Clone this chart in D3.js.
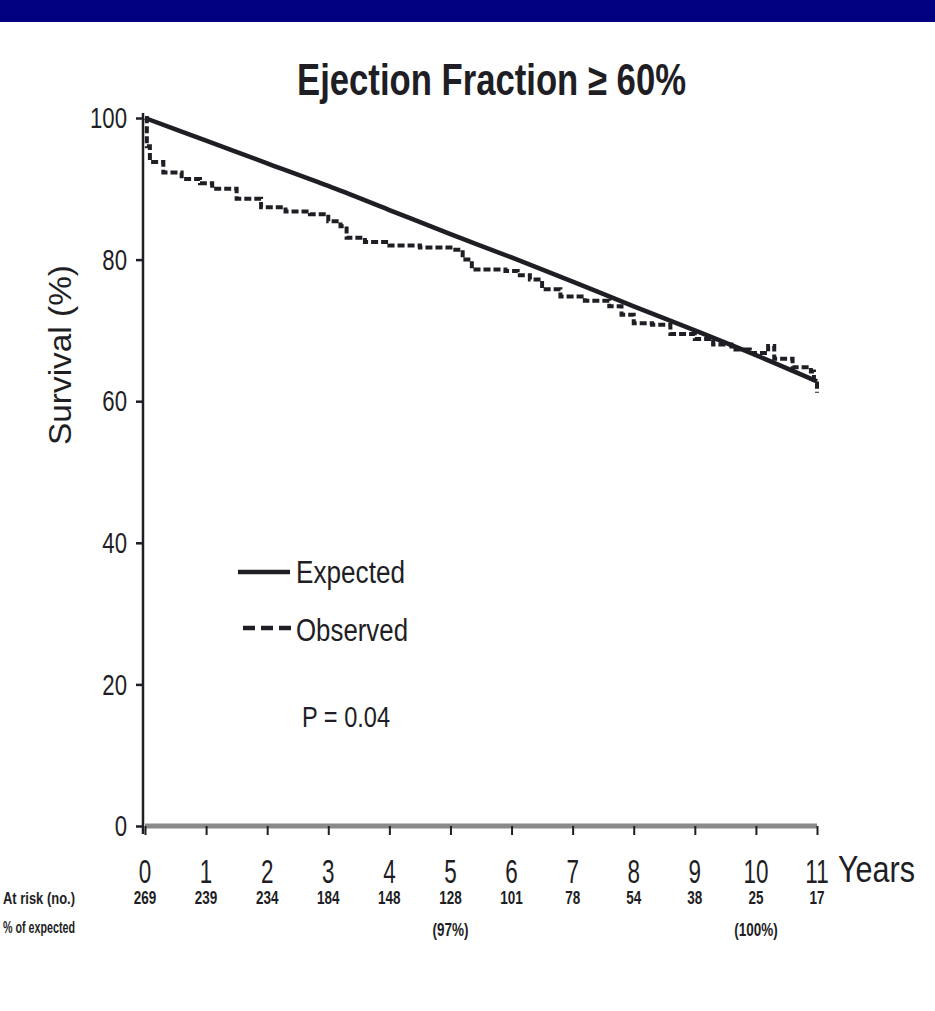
<!DOCTYPE html>
<html>
<head>
<meta charset="utf-8">
<script src="https://cdn.jsdelivr.net/npm/d3@7"></script>
<style>
  html, body { margin: 0; padding: 0; background: #fff; }
  svg { display: block; }
</style>
</head>
<body>
<svg id="chart" width="935" height="1011"></svg>
<script>
// ---- data ----
const chartTitle = "Ejection Fraction \u2265 60%";
const yTicks = [0, 20, 40, 60, 80, 100];
const xTicks = [0, 1, 2, 3, 4, 5, 6, 7, 8, 9, 10, 11];
const atRisk = [269, 239, 234, 184, 148, 128, 101, 78, 54, 38, 25, 17];
const pctExpected = [{ year: 5, label: "(97%)" }, { year: 10, label: "(100%)" }];

// expected survival, yearly
const expectedYears = [0, 1, 2, 3, 4, 5, 6, 7, 8, 9, 10, 11];
const expectedSurv = [100, 96.8, 93.6, 90.4, 87.0, 83.6, 80.3, 76.9, 73.4, 70.0, 66.5, 62.8];

// observed (Kaplan-Meier steps): time in years, survival %
const observedYears = [0, 0.03, 0.08, 0.3, 0.6, 0.9, 1.1, 1.5, 1.9, 2.3, 2.7, 3.0, 3.2, 3.3, 3.6, 4.0, 4.5, 5.0,
  5.2, 5.35, 5.9, 6.1, 6.3, 6.5, 6.8, 7.2, 7.6, 7.8, 8.0, 8.3, 8.6, 9.0, 9.3, 9.6, 9.9, 10.2, 10.3, 10.6, 10.9, 10.95, 11.0];
const observedSurv = [100, 96.0, 93.8, 92.3, 91.4, 90.8, 90.0, 88.6, 87.4, 86.8, 86.4, 85.4, 84.7, 83.1, 82.5, 82.0, 81.7, 81.4,
  80.0, 78.6, 78.4, 77.8, 77.2, 75.8, 74.8, 74.2, 73.4, 72.2, 71.0, 70.8, 69.5, 68.8, 68.0, 67.3, 66.8, 67.8, 66.0, 64.8, 64.2, 62.5, 61.2];

// ---- layout ----
const svg = d3.select("#chart");
const ink = "#1e1e24";
const font = "'Liberation Sans', Arial, sans-serif";

const x = d3.scaleLinear().domain([0, 11]).range([145, 817]);
const y = d3.scaleLinear().domain([0, 100]).range([826, 118]);

// header band
svg.append("rect").attr("x", 0).attr("y", 0).attr("width", 935).attr("height", 22).attr("fill", "#000080");

// condensed text helper: squeezes glyphs horizontally
function narrow(g, px, py, str, size, sx, anchor, weight) {
  return g.append("text")
    .attr("transform", `translate(${px},${py}) scale(${sx},1)`)
    .attr("text-anchor", anchor || "middle")
    .attr("dominant-baseline", "central")
    .attr("font-family", font)
    .attr("font-size", size)
    .attr("font-weight", weight || "normal")
    .attr("fill", ink)
    .text(str);
}

// fixed-width text helper
function fitted(g, px, py, str, size, len, weight) {
  return g.append("text")
    .attr("x", px).attr("y", py)
    .attr("textLength", len).attr("lengthAdjust", "spacingAndGlyphs")
    .attr("dominant-baseline", "central")
    .attr("font-family", font)
    .attr("font-size", size)
    .attr("font-weight", weight || "normal")
    .attr("fill", ink)
    .text(str);
}

// title
svg.append("text")
  .attr("x", 297).attr("y", 95)
  .attr("textLength", 389).attr("lengthAdjust", "spacingAndGlyphs")
  .attr("font-family", font).attr("font-size", 44).attr("font-weight", "bold")
  .attr("fill", ink).text(chartTitle);

// x axis (baseline band + ticks)
const xAxis = d3.axisBottom(x).tickValues(xTicks).tickSize(9).tickFormat("");
const gx = svg.append("g").attr("transform", `translate(0,${y(0)})`).call(xAxis);
gx.select(".domain").attr("stroke", "#8a8a8a").attr("stroke-width", 5).attr("d", `M${x(0)},0H${x(11)}`);
gx.selectAll(".tick line").attr("stroke", ink).attr("stroke-width", 2);

// y axis
const yAxis = d3.axisLeft(y).tickValues(yTicks).tickSize(7).tickFormat("");
const gy = svg.append("g").attr("transform", `translate(143,0)`).call(yAxis);
gy.select(".domain").attr("stroke", ink).attr("stroke-width", 2.5).attr("d", `M0,${y(0) + 8}V${y(100) - 5}`);
gy.selectAll(".tick line").attr("stroke", ink).attr("stroke-width", 2.5);

// tick labels
const labels = svg.append("g");
yTicks.forEach(v => narrow(labels, 127, y(v), String(v), 30, 0.74, "end"));
xTicks.forEach(v => narrow(labels, x(v), 871, String(v), 34, 0.66, "middle"));
fitted(labels, 838, 869, "Years", 36, 77);

// y axis title
svg.append("text")
  .attr("transform", `translate(60,355) rotate(-90)`)
  .attr("x", -90)
  .attr("textLength", 180).attr("lengthAdjust", "spacingAndGlyphs")
  .attr("dominant-baseline", "central")
  .attr("font-family", font).attr("font-size", 31).attr("fill", ink)
  .text("Survival (%)");

// number at risk row
atRisk.forEach((n, i) => narrow(labels, x(xTicks[i]), 898, String(n), 18, 0.75, "middle", "bold"));
pctExpected.forEach(d => narrow(labels, x(d.year), 930, d.label, 18, 0.75, "middle", "bold"));
fitted(labels, 3, 898, "At risk (no.)", 17, 72, "bold");
fitted(labels, 3, 927, "% of expected", 17, 72, "bold");

// curves
const expectedData = expectedYears.map((t, i) => [t, expectedSurv[i]]);
const observedData = observedYears.map((t, i) => [t, observedSurv[i]]);

svg.append("path")
  .datum(expectedData)
  .attr("fill", "none").attr("stroke", ink).attr("stroke-width", 4.5)
  .attr("stroke-linejoin", "round")
  .attr("d", d3.line().x(d => x(d[0])).y(d => y(d[1])).curve(d3.curveMonotoneX));

svg.append("path")
  .datum(observedData)
  .attr("fill", "none").attr("stroke", ink).attr("stroke-width", 4)
  .attr("stroke-dasharray", "7,3")
  .attr("d", d3.line().x(d => x(d[0])).y(d => y(d[1])).curve(d3.curveStepAfter));

// legend
const lg = svg.append("g");
lg.append("line").attr("x1", 238).attr("x2", 290).attr("y1", 572).attr("y2", 572)
  .attr("stroke", ink).attr("stroke-width", 4.5);
lg.append("line").attr("x1", 243).attr("x2", 291).attr("y1", 628).attr("y2", 628)
  .attr("stroke", ink).attr("stroke-width", 4.5).attr("stroke-dasharray", "12,6");
fitted(lg, 296, 572, "Expected", 31, 109);
fitted(lg, 296, 630, "Observed", 31, 112);
fitted(lg, 302, 717, "P = 0.04", 29, 88);
</script>
</body>
</html>
